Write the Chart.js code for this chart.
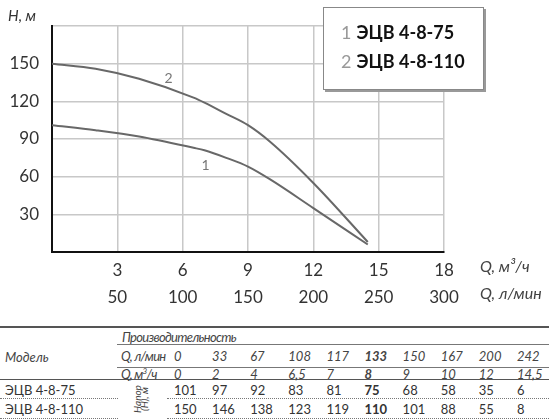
<!DOCTYPE html>
<html>
<head>
<meta charset="utf-8">
<script src="https://cdn.jsdelivr.net/npm/chart.js@4"></script>
<style>
  html, body { margin: 0; padding: 0; background: #fff; }
  body { width: 549px; height: 420px; position: relative; overflow: hidden; font-family: Lato, "Open Sans", sans-serif; color: #333; }
  #wrap { position: absolute; left: 0; top: 0; width: 549px; height: 320px; }
  #legend { position: absolute; left: 323px; top: 7px; width: 161px; height: 83px; background: #fff;
            border: 1px solid #888; box-shadow: 2px 2px 0 #999; box-sizing: border-box; }
  .lg { position: absolute; left: 17px; font-size: 18px; font-weight: bold; color: #111; white-space: nowrap; }
  .lg span { color: #999; font-weight: normal; margin-right: 5px; }
  .t { position: absolute; font-size: 13px; white-space: nowrap; line-height: 1; transform: translateY(-50%); }
  .i { font-style: italic; color: #444; }
  .n { letter-spacing: -0.7px; }
  .hl { position: absolute; height: 0; }
</style>
</head>
<body>
<div id="wrap"><canvas id="c" width="549" height="320"></canvas></div>
<div id="legend"></div>
<div id="table"></div>
<script>
// ---- data ----
const models = ['ЭЦВ 4-8-75', 'ЭЦВ 4-8-110'];
const flowLmin = [0, 33, 67, 108, 117, 133, 150, 167, 200, 242];
const flowM3h = [0, 2, 4, 6.5, 7, 8, 9, 10, 12, 14.5];
const flowM3hText = ['0', '2', '4', '6,5', '7', '8', '9', '10', '12', '14,5'];
const head75 = [101, 97, 92, 83, 81, 75, 68, 58, 35, 6];
const head110 = [150, 146, 138, 123, 119, 110, 101, 88, 55, 8];
const xTicksM3h = [3, 6, 9, 12, 15, 18];
const xTicksLmin = [50, 100, 150, 200, 250, 300];
const yTicks = [30, 60, 90, 120, 150];
const boldIndex = 5;

// ---- legend ----
const legend = document.getElementById('legend');
models.forEach((m, i) => {
  const d = document.createElement('div');
  d.className = 'lg';
  d.style.top = (13 + i * 29) + 'px';
  d.innerHTML = '<span>' + (i + 1) + '</span>' + m;
  legend.appendChild(d);
});

// ---- chart ----
Chart.defaults.font.family = 'Lato, "Open Sans", sans-serif';
const curveLabels = {
  id: 'curveLabels',
  afterDraw(chart) {
    const { ctx, chartArea, scales } = chart;
    ctx.save();
    ctx.fillStyle = '#333';
    ctx.font = 'italic 15px Lato, sans-serif';
    ctx.textBaseline = 'middle';
    ctx.textAlign = 'left';
    ctx.fillText('H, м', 8, 16);
    ctx.fillStyle = '#444';
    ctx.font = 'italic 16px Lato, sans-serif';
    ctx.fillText('Q, м³/ч', chartArea.right + 36, 267);
    ctx.fillText('Q, л/мин', chartArea.right + 36, 294);
    ctx.fillStyle = '#777';
    ctx.font = '14px Lato, sans-serif';
    ctx.textAlign = 'center';
    ctx.fillText('2', scales.x.getPixelForValue(5.35), scales.y.getPixelForValue(138));
    ctx.fillText('1', scales.x.getPixelForValue(7.05), scales.y.getPixelForValue(69));
    ctx.restore();
  }
};

new Chart(document.getElementById('c'), {
  type: 'line',
  data: {
    datasets: [
      { label: models[0], data: flowM3h.map((x, i) => ({ x, y: head75[i] })) },
      { label: models[1], data: flowM3h.map((x, i) => ({ x, y: head110[i] })) }
    ]
  },
  options: {
    responsive: false,
    animation: false,
    devicePixelRatio: 1,
    layout: { padding: { left: 0, right: 105, top: 26, bottom: 0 } },
    elements: {
      line: { borderColor: '#686868', borderWidth: 2, cubicInterpolationMode: 'monotone' },
      point: { radius: 0 }
    },
    plugins: { legend: { display: false }, tooltip: { enabled: false } },
    scales: {
      x: {
        type: 'linear', min: 0, max: 18,
        afterBuildTicks: s => { s.ticks = [0].concat(xTicksM3h).map(v => ({ value: v })); },
        afterFit: s => { s.height = 68; },
        grid: { color: '#c8c8c8', lineWidth: 1.5, drawTicks: false },
        border: { color: '#111', width: 2 },
        ticks: {
          padding: 5, color: '#333', font: { size: 17, lineHeight: 1.6 }, maxRotation: 0, autoSkip: false,
          callback: v => { const i = xTicksM3h.indexOf(v); return i < 0 ? '' : [String(v), String(xTicksLmin[i])]; }
        }
      },
      y: {
        min: 0, max: 180,
        afterBuildTicks: s => { s.ticks = [0].concat(yTicks, [180]).map(v => ({ value: v })); },
        afterFit: s => { s.width = 52; },
        grid: { color: '#c8c8c8', lineWidth: 1.5, drawTicks: false },
        border: { color: '#111', width: 2 },
        ticks: {
          padding: 13, color: '#333', font: { size: 17 },
          callback: v => yTicks.includes(v) ? String(v) : ''
        }
      }
    }
  },
  plugins: [curveLabels]
});

// ---- table ----
const tbl = document.getElementById('table');
function txt(s, x, y, cls, bold) {
  const d = document.createElement('div');
  d.className = 't ' + (cls || '');
  d.style.left = x + 'px'; d.style.top = y + 'px';
  if (bold) d.style.fontWeight = 'bold';
  d.innerHTML = s;
  tbl.appendChild(d);
  return d;
}
function line(x1, x2, y, style) {
  const d = document.createElement('div');
  d.className = 'hl';
  d.style.left = x1 + 'px'; d.style.width = (x2 - x1) + 'px'; d.style.top = y + 'px';
  d.style.borderTop = style;
  tbl.appendChild(d);
}
line(0, 549, 326, '2px solid #555');
line(117, 549, 344, '1px solid #777');
line(117, 549, 367, '1px solid #777');
line(0, 549, 379, '1px solid #555');
line(0, 118, 398, '1px dotted #777');
line(167, 549, 398, '1px dotted #777');
line(0, 118, 418, '1px dotted #777');
line(167, 549, 418, '1px dotted #777');

txt('Производительность', 122, 337, 'i n');
txt('Модель', 5, 357, 'i');
txt('Q, л/мин', 121, 356, 'i n');
txt('Q, м<sup style="font-size:8px">3</sup>/ч', 121, 374, 'i n');
txt(models[0], 5, 390);
txt(models[1], 5, 409);
const rot = document.createElement('div');
rot.innerHTML = 'Напор<br>(Н), м';
Object.assign(rot.style, {
  position: 'absolute', left: '124px', top: '392px', width: '34px', height: '14px',
  fontSize: '10px', lineHeight: '7px', fontStyle: 'italic', color: '#444', textAlign: 'center',
  whiteSpace: 'nowrap', transform: 'rotate(-90deg)', transformOrigin: '50% 50%'
});
tbl.appendChild(rot);

const colX = i => 174 + i * 38.1;
flowLmin.forEach((v, i) => txt(String(v), colX(i), 356, 'i', i === boldIndex));
flowM3hText.forEach((v, i) => txt(v, colX(i), 374, 'i', i === boldIndex));
head75.forEach((v, i) => txt(String(v), colX(i), 390, '', i === boldIndex));
head110.forEach((v, i) => txt(String(v), colX(i), 409, '', i === boldIndex));
</script>
</body>
</html>
